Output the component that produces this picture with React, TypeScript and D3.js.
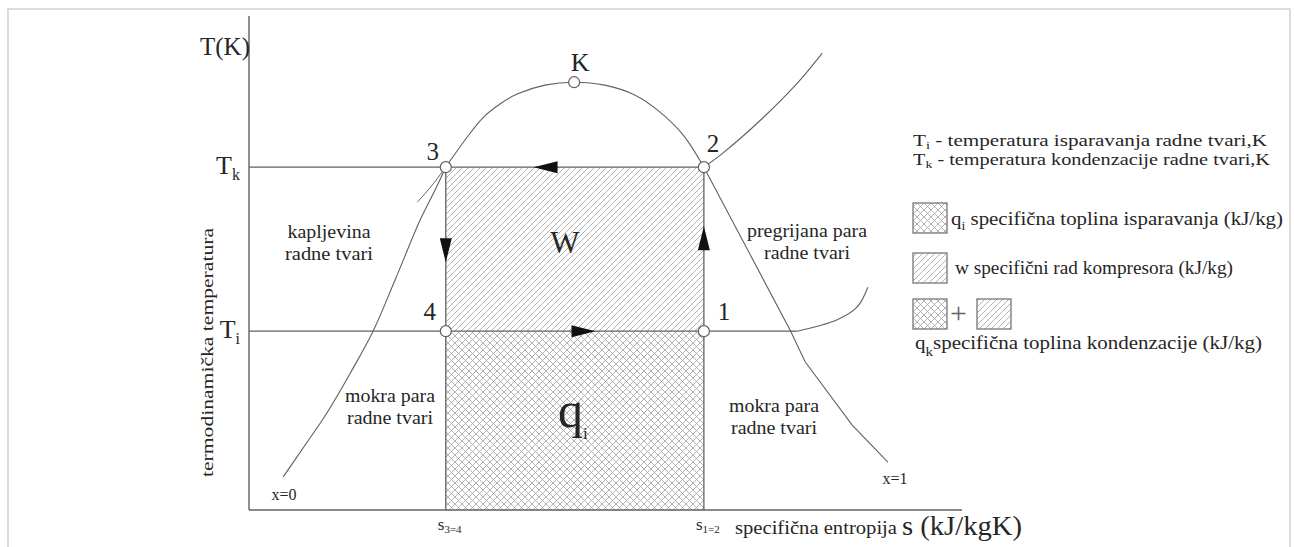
import React from 'react';
import * as d3 from 'd3';

const WIDTH = 1294;
const HEIGHT = 547;

// diagram units: entropy s (0..10), temperature T (0..100), schematic
const sDomain = [0, 10];
const tDomain = [0, 100];

const Tk = 69.4; // condensation temperature
const Ti = 36.2; // evaporation temperature
const s34 = 2.76;
const s12 = 6.38;

const states = [
  { id: '1', s: s12, T: Ti },
  { id: '2', s: s12, T: Tk },
  { id: '3', s: s34, T: Tk },
  { id: '4', s: s34, T: Ti },
];

const criticalPoint = { id: 'K', s: 4.56, T: 86.6 };

// saturated liquid line x=0 up to point 3
const liquidLine: [number, number][] = [
  [0.48, 6.7], [0.79, 13.2], [1.09, 19.6], [1.42, 27.7], [1.74, 36.2],
  [2.05, 46.6], [2.40, 58.7], [2.61, 64.8], [2.76, 69.4],
];

// dome from point 3 over K down to point 2
const domeTop: [number, number][] = [
  [2.76, 69.4], [3.03, 74.9], [3.28, 79.4], [3.52, 82.2], [3.76, 84.2],
  [4.15, 86.0], [4.56, 86.6], [4.99, 86.0], [5.41, 84.0], [5.76, 80.6],
  [6.09, 75.9], [6.38, 69.4],
];

// saturated vapour line x=1 below point 2
const vaporLine: [number, number][] = [
  [6.38, 69.4], [7.59, 36.4], [7.80, 30.0], [8.46, 17.2], [8.96, 9.7],
];

// condensation isobar in superheated region
const highIsobar: [number, number][] = [
  [6.38, 69.4], [6.65, 72.3], [7.21, 79.4], [7.69, 86.4], [8.04, 92.5],
];

// evaporation isobar after crossing x=1
const lowIsobar: [number, number][] = [
  [7.69, 36.2], [8.25, 38.5], [8.53, 41.1], [8.68, 45.1],
];

// subcooled liquid stroke at point 3
const liquidIsobar: [number, number][] = [
  [2.76, 69.4], [2.56, 65.6], [2.36, 62.3],
];

// process arrows: from, to, tip fraction along the segment
const cycleArrows: [string, string, number][] = [
  ['4', '1', 0.58],
  ['1', '2', 0.64],
  ['2', '3', 0.66],
  ['3', '4', 0.58],
];

const tempTicks = [
  { sym: 'T', sub: 'k', T: Tk },
  { sym: 'T', sub: 'i', T: Ti },
];
const entropyTicks = [
  { sym: 's', sub: '3=4', s: s34 },
  { sym: 's', sub: '1=2', s: s12 },
];

const liquidLabel = ['kapljevina', 'radne tvari'];
const superheatLabel = ['pregrijana para', 'radne tvari'];
const wetLabel = ['mokra para', 'radne tvari'];

const legendTemps = [
  { sym: 'T', sub: 'i', text: ' - temperatura isparavanja radne tvari,K', len: 354 },
  { sym: 'T', sub: 'k', text: ' - temperatura kondenzacije radne tvari,K', len: 357 },
];

const FONT = '"Liberation Serif", "Times New Roman", serif';
const INK = '#262626';
const LINE = '#606060';
const HATCH = '#a0a0a0';

export default function App() {
  const x = d3.scaleLinear().domain(sDomain).range([249, 962]);
  const y = d3.scaleLinear().domain(tDomain).range([510, 16]);

  const smooth = d3
    .line<[number, number]>()
    .x(d => x(d[0]))
    .y(d => y(d[1]))
    .curve(d3.curveCatmullRom.alpha(0.5));
  const straight = d3
    .line<[number, number]>()
    .x(d => x(d[0]))
    .y(d => y(d[1]));

  const byId = Object.fromEntries(states.map(p => [p.id, p]));

  const arrowHead = (a: string, b: string, f: number) => {
    const A = byId[a];
    const B = byId[b];
    const ax = x(A.s), ay = y(A.T), bx = x(B.s), by = y(B.T);
    const tx = ax + (bx - ax) * f;
    const ty = ay + (by - ay) * f;
    const len = Math.hypot(bx - ax, by - ay);
    const ux = (bx - ax) / len, uy = (by - ay) / len;
    const L = 24, W = 6;
    const baseX = tx - ux * L, baseY = ty - uy * L;
    return `M${tx},${ty}L${baseX - uy * W},${baseY + ux * W}L${baseX + uy * W},${baseY - ux * W}Z`;
  };

  const labelOffsets: Record<string, [number, number]> = {
    '1': [20, -11],
    '2': [9, -15],
    '3': [-13, -7],
    '4': [-16, -11],
  };

  const midS = x(s34) + (x(s12) - x(s34)) / 2;

  return (
    <svg
      width={WIDTH}
      height={HEIGHT}
      style={{ position: 'absolute', left: 0, top: 0, background: '#fff' }}
      fontFamily={FONT}
    >
      <defs>
        <pattern id="diag" width={6} height={6} patternUnits="userSpaceOnUse">
          <path d="M0,6L6,0M-1.5,1.5L1.5,-1.5M4.5,7.5L7.5,4.5" stroke={HATCH} strokeWidth={0.8} />
        </pattern>
        <pattern id="cross" width={7} height={7} patternUnits="userSpaceOnUse">
          <path
            d="M0,7L7,0M-1.75,1.75L1.75,-1.75M5.25,8.75L8.75,5.25M0,0L7,7M-1.75,5.25L1.75,8.75M5.25,-1.75L8.75,1.75"
            stroke={HATCH}
            strokeWidth={0.8}
          />
        </pattern>
      </defs>

      <rect x={0} y={0} width={WIDTH} height={HEIGHT} fill="#fff" />
      <rect x={8} y={9} width={1282} height={545} fill="none" stroke="#cfcfcf" strokeWidth={1.5} />

      {/* hatched areas */}
      <rect x={x(s34)} y={y(Tk)} width={x(s12) - x(s34)} height={y(Ti) - y(Tk)} fill="url(#diag)" />
      <rect x={x(s34)} y={y(Ti)} width={x(s12) - x(s34)} height={y(0) - y(Ti)} fill="url(#cross)" />

      {/* axes */}
      <line x1={x(0)} y1={y(100)} x2={x(0)} y2={y(0)} stroke={LINE} strokeWidth={1.4} />
      <line x1={x(0)} y1={y(0)} x2={x(10)} y2={y(0)} stroke={LINE} strokeWidth={1.4} />

      {/* isotherms / cycle */}
      <line x1={x(0)} y1={y(Tk)} x2={x(s12)} y2={y(Tk)} stroke={LINE} strokeWidth={1.3} />
      <line x1={x(0)} y1={y(Ti)} x2={x(lowIsobar[0][0])} y2={y(Ti)} stroke={LINE} strokeWidth={1.3} />
      <line x1={x(s34)} y1={y(Tk)} x2={x(s34)} y2={y(0)} stroke={LINE} strokeWidth={1.3} />
      <line x1={x(s12)} y1={y(Tk)} x2={x(s12)} y2={y(0)} stroke={LINE} strokeWidth={1.3} />

      <path d={smooth(liquidLine) ?? ''} fill="none" stroke={LINE} strokeWidth={1.1} />
      <path d={smooth(domeTop) ?? ''} fill="none" stroke={LINE} strokeWidth={1.1} />
      <path d={straight(vaporLine) ?? ''} fill="none" stroke={LINE} strokeWidth={1.1} />
      <path d={smooth(highIsobar) ?? ''} fill="none" stroke={LINE} strokeWidth={1.1} />
      <path d={smooth(lowIsobar) ?? ''} fill="none" stroke={LINE} strokeWidth={1.1} />
      <path d={smooth(liquidIsobar) ?? ''} fill="none" stroke={LINE} strokeWidth={1} />

      {cycleArrows.map(([a, b, f]) => (
        <path key={a + b} d={arrowHead(a, b, f)} fill="#111" />
      ))}

      {[...states, criticalPoint].map(p => (
        <circle key={p.id} cx={x(p.s)} cy={y(p.T)} r={5.5} fill="#fff" stroke={LINE} strokeWidth={1.2} />
      ))}

      <g fill={INK}>
        {states.map(p => (
          <text
            key={p.id}
            x={x(p.s) + labelOffsets[p.id][0]}
            y={y(p.T) + labelOffsets[p.id][1]}
            textAnchor="middle"
            fontSize={25}
          >
            {p.id}
          </text>
        ))}
        <text x={x(criticalPoint.s) + 6} y={y(criticalPoint.T) - 11} textAnchor="middle" fontSize={26}>
          K
        </text>

        <text x={x(0) + 1} y={55} textAnchor="end" fontSize={25}>T(K)</text>
        {tempTicks.map(t => (
          <text key={t.sub} x={x(0) - 9} y={y(t.T) + 7} textAnchor="end" fontSize={26}>
            {t.sym}
            <tspan fontSize={16} dy={6}>{t.sub}</tspan>
          </text>
        ))}
        <text
          transform={`translate(213,477) rotate(-90)`}
          fontSize={17}
          textLength={249}
          lengthAdjust="spacingAndGlyphs"
        >
          termodinamička temperatura
        </text>

        {entropyTicks.map(t => (
          <text key={t.sub} x={x(t.s) - 8} y={530} fontSize={17}>
            {t.sym}
            <tspan fontSize={11} dy={3}>{t.sub}</tspan>
          </text>
        ))}
        <text x={735} y={534} fontSize={18} textLength={162} lengthAdjust="spacingAndGlyphs">
          specifična entropija
        </text>
        <text x={902} y={535} fontSize={27} textLength={120} lengthAdjust="spacingAndGlyphs">
          s (kJ/kgK)
        </text>

        <text x={midS - 10} y={y(Tk) + 86} textAnchor="middle" fontSize={31}>W</text>
        <text x={midS - 2} y={y(Ti) + 96} textAnchor="middle" fontSize={50}>
          q<tspan fontSize={17} dy={12}>i</tspan>
        </text>

        {liquidLabel.map((t, i) => (
          <text key={t} x={329} y={238 + i * 22} textAnchor="middle" fontSize={18}
            textLength={i === 0 ? 83 : 88} lengthAdjust="spacingAndGlyphs">{t}</text>
        ))}
        {superheatLabel.map((t, i) => (
          <text key={t} x={807} y={237 + i * 22} textAnchor="middle" fontSize={18}
            textLength={i === 0 ? 120 : 86} lengthAdjust="spacingAndGlyphs">{t}</text>
        ))}
        {wetLabel.map((t, i) => (
          <text key={'l' + t} x={390} y={402 + i * 22} textAnchor="middle" fontSize={18}
            textLength={i === 0 ? 90 : 86} lengthAdjust="spacingAndGlyphs">{t}</text>
        ))}
        {wetLabel.map((t, i) => (
          <text key={'r' + t} x={774} y={412 + i * 22} textAnchor="middle" fontSize={18}
            textLength={i === 0 ? 90 : 86} lengthAdjust="spacingAndGlyphs">{t}</text>
        ))}
        <text x={284} y={500} textAnchor="middle" fontSize={16}>x=0</text>
        <text x={895} y={484} textAnchor="middle" fontSize={16}>x=1</text>

        {/* legend */}
        {legendTemps.map((l, i) => (
          <text key={l.sub} x={913} y={146 + i * 19} fontSize={16} textLength={l.len} lengthAdjust="spacingAndGlyphs">
            {l.sym}
            <tspan fontSize={11} dy={3}>{l.sub}</tspan>
            <tspan dy={-3}>{l.text}</tspan>
          </text>
        ))}
      </g>

      <g stroke="#777" strokeWidth={1.3}>
        <rect x={913} y={203} width={34} height={30} fill="url(#cross)" />
        <rect x={913} y={253} width={34} height={30} fill="url(#diag)" />
        <rect x={913} y={299} width={34} height={30} fill="url(#cross)" />
        <rect x={977} y={299} width={34} height={30} fill="url(#diag)" />
      </g>
      <g fill={INK}>
        <text x={951} y={225} fontSize={18} textLength={332} lengthAdjust="spacingAndGlyphs">
          q<tspan fontSize={12} dy={5}>i</tspan>
          <tspan dy={-5}> specifična toplina isparavanja (kJ/kg)</tspan>
        </text>
        <text x={955} y={274} fontSize={18} textLength={278} lengthAdjust="spacingAndGlyphs">
          w specifični rad kompresora (kJ/kg)
        </text>
        <text x={950} y={323} fontSize={30} fill="#666">+</text>
        <text x={915} y={349} fontSize={18} textLength={347} lengthAdjust="spacingAndGlyphs">
          q<tspan fontSize={13} dy={7}>k</tspan>
          <tspan dy={-7}>specifična toplina kondenzacije (kJ/kg)</tspan>
        </text>
      </g>
    </svg>
  );
}
